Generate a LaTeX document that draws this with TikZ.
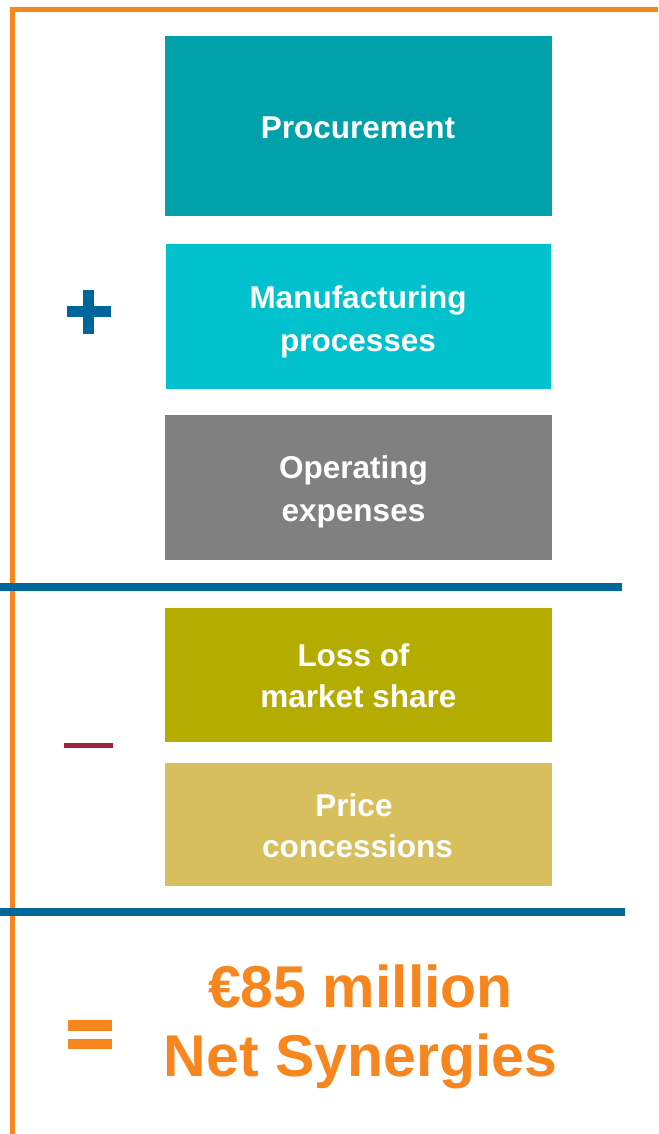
\documentclass[tikz,border=0pt]{standalone}
\usepackage{fontspec}
\setmainfont{Liberation Sans}
\definecolor{frameorange}{HTML}{F7861F}
\definecolor{ruleblue}{HTML}{00679B}
\definecolor{plusblue}{HTML}{00669A}
\definecolor{minusred}{HTML}{A3203F}
\definecolor{proccol}{HTML}{00A1AA}
\definecolor{manucol}{HTML}{00C1CC}
\definecolor{opercol}{HTML}{808080}
\definecolor{losscol}{HTML}{B5AC00}
\definecolor{pricecol}{HTML}{D7BF5E}
\begin{document}
\begin{tikzpicture}[x=1pt,y=-1pt,
  block/.style={rectangle, inner sep=0pt, draw=none, minimum width=387pt},
  blocktext/.style={text=white, align=center, inner sep=0pt, anchor=north},
  tightlines/.style={font=\bfseries\fontsize{31.5}{42.5}\selectfont},
  looselines/.style={font=\bfseries\fontsize{31.5}{41.6}\selectfont},
  frameline/.style={draw=frameorange, line width=5pt},
  divider/.style={draw=ruleblue, line width=8pt}]
\useasboundingbox (0,0) rectangle (658,1134);

% outer frame
\draw[frameline] (658,9.5) -| (12.5,1134);

% synergy blocks
\node[block, fill=proccol, minimum height=180pt] (proc) at (358.5,126) {};
\node[block, fill=manucol, minimum height=145pt, minimum width=385pt] (manu) at (358.5,316.5) {};
\node[block, fill=opercol, minimum height=145pt] (oper) at (358.5,487.5) {};
\node[block, fill=losscol, minimum height=134pt] (loss) at (358.5,675) {};
\node[block, fill=pricecol, minimum height=123pt] (price) at (358.5,824.5) {};

\node[blocktext, tightlines] (proctext) at (358,116.5) {Procurement};
\node[blocktext, tightlines] (manutext) at (358,285.5) {Manufacturing\\processes};
\node[blocktext, tightlines] (opertext) at (353.5,455.5) {Operating\\expenses};
\node[blocktext, looselines] (losstext) at (358.5,643) {Loss of\hspace*{10pt}\\market share};
\node[blocktext, looselines] (pricetext) at (357.5,793) {Price\hspace*{7pt}\\concessions};

% dividers between the sections
\draw[divider] (0,587) -- (622,587);
\draw[divider] (0,912) -- (625,912);

% operators
\fill[plusblue] (66.7,306) rectangle (111,317);
\fill[plusblue] (83.3,290) rectangle (94,334);
\fill[minusred] (64,743) rectangle (113,748);
\fill[frameorange] (67.5,1020) rectangle (112,1031);
\fill[frameorange] (67.5,1039) rectangle (112,1049);

% result
\node[anchor=north, inner sep=0pt, align=center, text=frameorange,
      font=\bfseries\fontsize{59}{69}\selectfont] (net) at (360.5,965)
      {€85 million\\Net Synergies};
\end{tikzpicture}
\end{document}
